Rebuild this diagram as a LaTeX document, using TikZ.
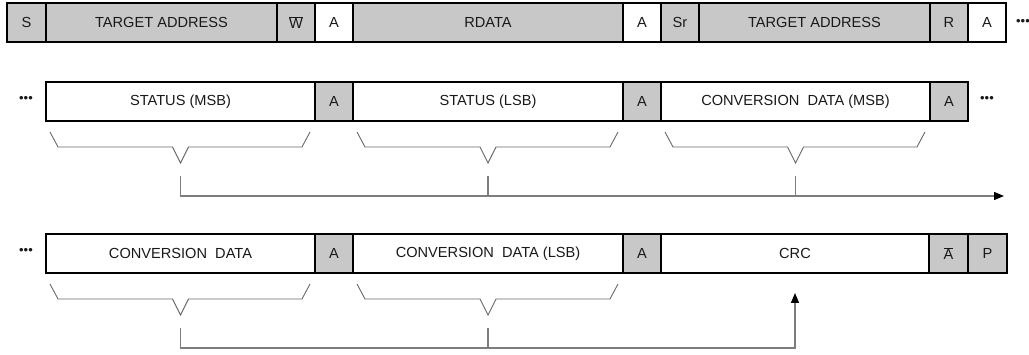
\documentclass[tikz,border=0pt]{standalone}
\usepackage{fontspec}
\setmainfont{Liberation Sans}
\usepackage{amsmath}
\usetikzlibrary{positioning, calc, arrows.meta}
\definecolor{fieldgray}{RGB}{200,200,200}
\definecolor{linkgray}{RGB}{125,125,125}
\definecolor{bracegray}{RGB}{105,105,105}
\tikzset{
  field/.style={rectangle, draw=black, line width=1.6pt, minimum height=39pt,
    inner sep=0pt, outer sep=0pt, text=black!90,
    font=\fontsize{14.6}{16}\selectfont},
  ctrl/.style={field, fill=fieldgray, minimum width=38pt},
  ack/.style={field, fill=white, minimum width=38pt},
  data/.style={field, fill=white, minimum width=#1},
  addr/.style={field, fill=fieldgray, minimum width=#1},
  brace/.style={draw=bracegray, line width=0.9pt},
  link/.style={draw=linkgray, line width=1.3pt},
  flow/.style={link, -{Triangle[length=10pt, width=8pt, black]}},
  more/.style={inner sep=0pt, text=black!90, font=\fontsize{13}{15}\selectfont}
}
% brace under a data field
\newcommand{\fieldbrace}[1]{%
  \draw[brace] ([xshift=4pt, yshift=-11pt]#1.south west) -- ++(8pt,-15pt)
    -- ($(#1.south)+(-8pt,-26pt)$) -- ($(#1.south)+(0pt,-42pt)$)
    -- ($(#1.south)+(8pt,-26pt)$) -- ($(#1.south east)+(-13pt,-26pt)$)
    -- ++(8pt,15pt);}

\begin{document}
\begin{tikzpicture}[x=1pt, y=-1pt]
\useasboundingbox (0,0) rectangle (1029,355);

% first line: address and register read
\node (s) [ctrl, minimum width=39pt, anchor=north west] at (7,3) {S};
\node (addr1) [addr=231pt, right=0pt of s] {TARGET ADDRESS};
\node (wr) [ctrl, right=0pt of addr1] {$\overline{\text{W}}$};
\node (ack1) [ack, right=0pt of wr] {A};
\node (rdata) [addr=270pt, right=0pt of ack1] {RDATA};
\node (ack2) [ack, right=0pt of rdata] {A};
\node (sr) [ctrl, right=0pt of ack2] {Sr};
\node (addr2) [addr=231pt, right=0pt of sr] {TARGET ADDRESS};
\node (rd) [ctrl, right=0pt of addr2] {R};
\node (ack3) [ack, right=0pt of rd] {A};
\node (more1) [more] at (1023,22) {•••};

% second line
\node (more2) [more] at (26,99) {•••};
\node (stmsb) [data=269pt, anchor=north west] at (46,82) {STATUS (MSB)};
\node (ack4) [ctrl, right=0pt of stmsb] {A};
\node (stlsb) [data=270pt, right=0pt of ack4] {STATUS (LSB)};
\node (ack5) [ctrl, right=0pt of stlsb] {A};
\node (cvmsb) [data=269pt, right=0pt of ack5] {CONVERSION~~DATA (MSB)};
\node (ack6) [ctrl, right=0pt of cvmsb] {A};
\node (more3) [more] at (987,99) {•••};

% third line
\node (more4) [more] at (26,251) {•••};
\node (cvmid) [data=269pt, anchor=north west] at (46,234) {CONVERSION~~DATA};
\node (ack7) [ctrl, right=0pt of cvmid] {A};
\node (cvlsb) [data=270pt, right=0pt of ack7] {CONVERSION~~DATA (LSB)};
\node (ack8) [ctrl, right=0pt of cvlsb] {A};
\node (crc) [data=268pt, right=0pt of ack8] {CRC};
\node (nack) [ctrl, minimum width=39pt, right=0pt of crc] {$\overline{\text{A}}$};
\node (stop) [ctrl, minimum width=39pt, right=0pt of nack] {P};

% braces
\fieldbrace{stmsb}
\fieldbrace{stlsb}
\fieldbrace{cvmsb}
\fieldbrace{cvmid}
\fieldbrace{cvlsb}

% connectors
\coordinate (m1) at ([yshift=-55pt]stmsb.south);
\coordinate (m2) at ([yshift=-55pt]stlsb.south);
\coordinate (m3) at ([yshift=-55pt]cvmsb.south);
\coordinate (out) at (1004,196);
\draw[flow] (m1) |- (out);
\draw[link] (m2) -- (m2 |- out);
\draw[link] (m3) -- (m3 |- out);

\coordinate (n1) at ([yshift=-55pt]cvmid.south);
\coordinate (n2) at ([yshift=-55pt]cvlsb.south);
\coordinate (crcin) at ([yshift=-20pt]crc.south);
\draw[flow] (n1) -- ++(0pt,-20pt) -| (crcin);
\draw[link] (n2) -- ++(0pt,-20pt);

\end{tikzpicture}
\end{document}
